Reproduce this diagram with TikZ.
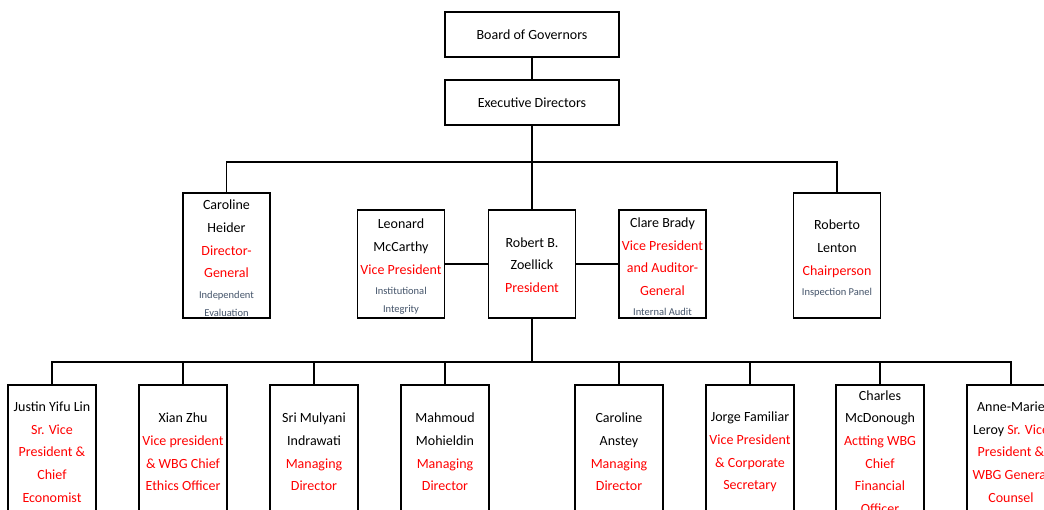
\documentclass[tikz,border=0pt]{standalone}
\usepackage{fontspec}
\setmainfont{Carlito}
\definecolor{rd}{RGB}{255,0,0}
\definecolor{sub}{HTML}{44546A}
\newcommand{\rt}[1]{\textcolor{rd}{#1}}
\newcommand{\sm}[1]{{\fontsize{10.5}{13}\selectfont\color{sub}#1}}
\newcommand{\dn}{\rule{0pt}{15.5pt}}
\tikzset{
  box/.style={draw, line width=1.3pt, align=center, inner sep=0pt, fill=white,
    font=\fontsize{14}{22.7}\selectfont},
  topbox/.style={box, minimum width=174pt, minimum height=45pt},
  tallbox/.style={box, minimum width=87pt, minimum height=125pt},
  midbox/.style={box, minimum width=87pt, minimum height=108pt},
  lowbox/.style={box, minimum width=88pt, minimum height=134pt},
  wire/.style={line width=1.3pt}
}
\begin{document}
\begin{tikzpicture}[x=1pt,y=-1pt]
\clip (0,0) rectangle (1044,510);
\fill[white] (0,0) rectangle (1044,510);

\node[topbox] (bog) at (532,34.5) {\rule{0pt}{11pt}Board of Governors};
\node[topbox] (ed) at (532,102.5) {\rule{0pt}{11pt}Executive Directors};

\node[tallbox] (heider) at (226.5,255.5) {\dn Caroline\\Heider\\\rt{Director-}\\\rt{General}\\[-2pt]\sm{Independent}\\[-4.5pt]\sm{Evaluation}};
\node[midbox] (mccarthy) at (401,264) {\dn Leonard\\McCarthy\\\rt{Vice President}\\[-2.5pt]\sm{Institutional}\\[-4.5pt]\sm{Integrity}};
\node[midbox] (zo) at (532,264) {\rule{0pt}{12pt}Robert B.\\Zoellick\\\rt{President}};
\node[midbox] (brady) at (662.5,264) {\dn Clare Brady\\\rt{Vice President}\\\rt{and Auditor-}\\\rt{General}\\[-2.5pt]\sm{Internal Audit}};
\node[tallbox] (lenton) at (837,255.5) {\dn Roberto\\Lenton\\\rt{Chairperson}\\[-2.5pt]\sm{Inspection Panel}};

\node[lowbox] (b1) at (52,452) {Justin Yifu Lin\\\rt{Sr. Vice}\\\rt{President \&}\\\rt{Chief}\\\rt{Economist}};
\node[lowbox] (b2) at (183,452) {Xian Zhu\\\rt{Vice president}\\\rt{\& WBG Chief}\\\rt{Ethics Officer}};
\node[lowbox] (b3) at (314,452) {Sri Mulyani\\Indrawati\\\rt{Managing}\\\rt{Director}};
\node[lowbox] (b4) at (445,452) {Mahmoud\\Mohieldin\\\rt{Managing}\\\rt{Director}};
\node[lowbox] (b5) at (619,452) {Caroline\\Anstey\\\rt{Managing}\\\rt{Director}};
\node[lowbox] (b6) at (750,452) {Jorge Familiar\\\rt{Vice President}\\\rt{\& Corporate}\\\rt{Secretary}};
\node[lowbox] (b7) at (880,452) {Charles\\McDonough\\\rt{Actting WBG}\\\rt{Chief}\\\rt{Financial}\\\rt{Officer}};
\node[lowbox] (b8) at (1011,452) {Anne-Marie\\Leroy \rt{Sr. Vice}\\\rt{President \&}\\\rt{WBG General}\\\rt{Counsel}};

\coordinate (bus1) at (532,162);
\coordinate (bus2) at (532,362);

\draw[wire] (bog) -- (ed);
\draw[wire] (ed) -- (zo);
\draw[wire] (heider.north) |- (bus1) -| (lenton.north);
\draw[wire] (mccarthy) -- (zo);
\draw[wire] (zo) -- (brady);
\draw[wire] (zo.south) -- (bus2);
\draw[wire] (b1.north) |- (bus2) -| (b8.north);
\foreach \b in {b2,b3,b4,b5,b6,b7}
  \draw[wire] (\b.north) -- (\b.north |- bus2);
\end{tikzpicture}
\end{document}
